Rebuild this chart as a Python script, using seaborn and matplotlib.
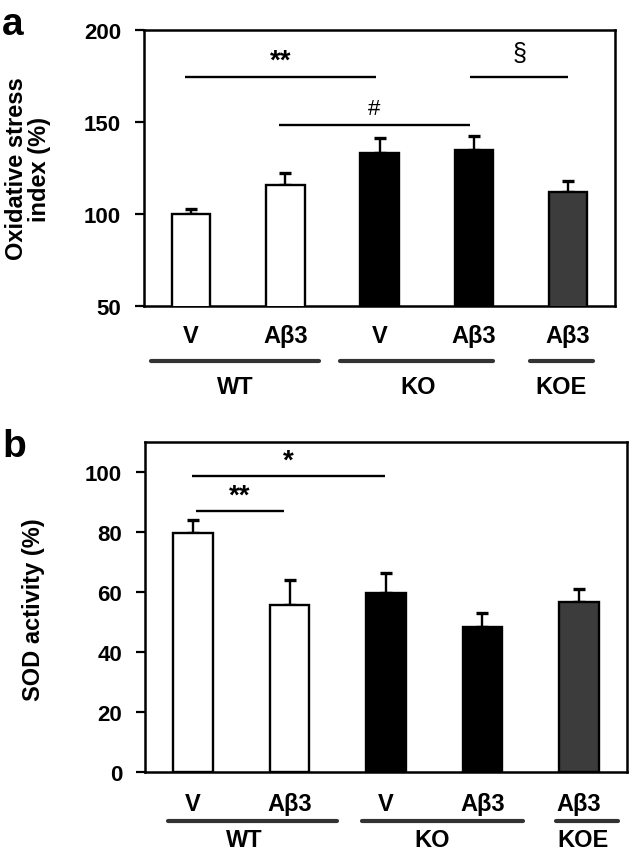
import matplotlib
matplotlib.use("Agg")
import matplotlib.pyplot as plt
import seaborn as sns
import pandas as pd
import numpy as np
from matplotlib.transforms import blended_transform_factory

# ---------------- data ----------------
conditions = ["WT V", "WT Aβ3", "KO V", "KO Aβ3", "KOE Aβ3"]
treatment_labels = ["V", "Aβ3", "V", "Aβ3", "Aβ3"]
bar_colors = ["#ffffff", "#ffffff", "#000000", "#000000", "#3c3c3c"]
genotypes = ["WT", "KO", "KOE"]

osi_mean = [100.0, 116.0, 133.0, 134.5, 112.2]
osi_err = [2.7, 6.3, 8.2, 7.8, 6.0]
sod_mean = [79.8, 55.8, 59.6, 48.4, 56.8]
sod_err = [4.3, 8.2, 6.7, 4.5, 4.2]

osi_ticks = [50, 100, 150, 200]
sod_ticks = [0, 20, 40, 60, 80, 100]

# significance brackets: (x_start, x_end, line_y, label, label_y)
osi_sig = [(-0.06, 1.96, 174.3, "**", 183.0),
           (0.93, 2.96, 148.2, "#", 157.5),
           (2.96, 4.0, 174.3, "§", 187.5)]
sod_sig = [(-0.01, 1.99, 98.6, "*", 103.8),
           (0.03, 0.94, 87.1, "**", 92.0)]

# genotype group spans under the axis: (x_start, x_end, text_x)
osi_groups = [(-0.43, 1.36, 0.47), (1.58, 3.20, 2.41), (3.60, 4.27, 3.93)]
sod_groups = [(-0.26, 1.49, 0.53), (1.75, 3.42, 2.48), (3.76, 4.41, 4.04)]

# ---------------- style ----------------
sns.set_theme(style="ticks")
plt.rcParams["font.family"] = ["Liberation Sans", "DejaVu Sans"]
plt.rcParams["font.weight"] = "bold"
plt.rcParams["text.color"] = "black"
plt.rcParams["axes.labelcolor"] = "black"
plt.rcParams["xtick.color"] = "black"
plt.rcParams["ytick.color"] = "black"

fig = plt.figure(figsize=(6.29, 8.62), dpi=100)
ax_a = fig.add_axes([0.229, 0.6435, 0.749, 0.3209])
ax_b = fig.add_axes([0.2305, 0.1029, 0.7663, 0.3831])


def draw_panel(ax, means, errs, ylim, ticks, sig, groups, line_y, text_y, xpad):
    df = pd.DataFrame({"condition": conditions, "value": means})
    sns.barplot(data=df, x="condition", y="value", hue="condition",
                order=conditions, hue_order=conditions, palette=bar_colors,
                saturation=1, edgecolor="black", linewidth=1.7, width=0.41,
                legend=False, ax=ax, zorder=3)
    ax.errorbar(np.arange(len(means)), means,
                yerr=[np.zeros(len(means)), errs], fmt="none",
                ecolor="black", elinewidth=1.7, capsize=4, capthick=2.4,
                zorder=2)
    ax.set_xlim(-0.5, 4.5)
    ax.set_ylim(*ylim)
    ax.set_yticks(ticks)
    ax.set_yticklabels([str(t) for t in ticks])
    ax.set_xticks(range(len(conditions)))
    ax.set_xticklabels(treatment_labels)
    ax.set_xlabel("")
    ax.set_ylabel("")
    for s in ax.spines.values():
        s.set_visible(True)
        s.set_linewidth(1.8)
        s.set_color("black")
    ax.tick_params(axis="y", direction="out", length=6.5, width=1.6,
                   labelsize=16, pad=10, colors="black")
    ax.tick_params(axis="x", length=0, labelsize=17, pad=xpad, colors="black")
    for lab in ax.get_xticklabels() + ax.get_yticklabels():
        lab.set_fontweight("bold")
        lab.set_color("black")
    for x1, x2, y, txt, ty in sig:
        ax.plot([x1, x2], [y, y], color="black", lw=1.7, solid_capstyle="butt")
        if txt == "§":
            fs, fw = 18, "normal"
        elif txt == "#":
            fs, fw = 16, "normal"
        else:
            fs, fw = 20, "bold"
        ax.text((x1 + x2) / 2, ty, txt, ha="center", va="center",
                fontsize=fs, fontweight=fw, color="black")
    trans = blended_transform_factory(ax.transData, ax.transAxes)
    for (x1, x2, tx), g in zip(groups, genotypes):
        ax.plot([x1, x2], [line_y, line_y], transform=trans, clip_on=False,
                color="#333333", lw=3, solid_capstyle="round")
        ax.text(tx, text_y, g, transform=trans, ha="center", va="center",
                fontsize=17, fontweight="bold", color="black")


draw_panel(ax_a, osi_mean, osi_err, (50, 200), osi_ticks, osi_sig,
           osi_groups, -0.197, -0.291, 13)
draw_panel(ax_b, sod_mean, sod_err, (0, 110), sod_ticks, sod_sig,
           sod_groups, -0.1465, -0.202, 14)

fig.text(28 / 629, 1 - 169 / 862, "Oxidative stress\nindex (%)", rotation=90,
         ha="center", va="center", multialignment="center", fontsize=17,
         fontweight="bold", linespacing=1.05, color="black")
fig.text(33.5 / 629, 1 - 610 / 862, "SOD activity (%)", rotation=90,
         ha="center", va="center", fontsize=17, fontweight="bold",
         color="black")

fig.text(0.003, 1 - 35 / 862, "a", fontsize=28, fontweight="bold",
         ha="left", va="baseline", color="black")
fig.text(0.004, 1 - 457 / 862, "b", fontsize=28, fontweight="bold",
         ha="left", va="baseline", color="black")

fig.savefig("out.png", dpi=100, facecolor="white")
